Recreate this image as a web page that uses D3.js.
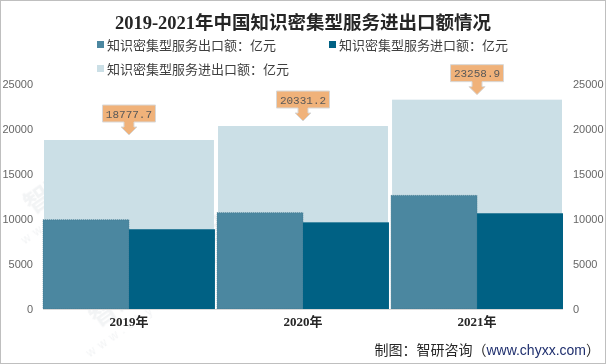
<!DOCTYPE html>
<html><head><meta charset="utf-8">
<script src="https://cdn.jsdelivr.net/npm/d3@7"></script>
<style>html,body{margin:0;padding:0;background:#fff;}svg{display:block;}</style>
</head><body>
<script>
const years = ["2019年", "2020年", "2021年"];
const exportVals = [9916.9, 10701.4, 12623.2];
const importVals = [8860.8, 9629.8, 10635.7];
const totalVals = [18777.7, 20331.2, 23258.9];
const totalLabels = ["18777.7", "20331.2", "23258.9"];
const yTicks = [0, 5000, 10000, 15000, 20000, 25000];
const seriesNames = ["知识密集型服务出口额：亿元", "知识密集型服务进口额：亿元", "知识密集型服务进出口额：亿元"];
const titleText = "2019-2021年中国知识密集型服务进出口额情况";
const colors = {exp: "#4b87a0", imp: "#006184", tot: "#cbdfe6"};

const W = 606, H = 364;
const svg = d3.select("body").append("svg").attr("width", W).attr("height", H);

// watermarks
const wm = svg.append("g").attr("opacity", 0.1);
[[75,185],[250,215],[140,298]].forEach(([x,y])=>{
  const g = wm.append("g").attr("transform", `translate(${x},${y}) rotate(-35)`);
  g.append("text").attr("text-anchor","middle").attr("font-family","Noto Sans CJK SC").attr("font-weight","bold")
    .attr("font-size",26).attr("fill","#7f8c99").text("智研咨询");
  g.append("text").attr("text-anchor","middle").attr("y",20).attr("font-family","Liberation Sans")
    .attr("font-size",12).attr("letter-spacing",5).attr("fill","#7f8c99").text("www.chyxx.com");
});

const y = d3.scaleLinear().domain([0, 25000]).range([309, 84]);
const x = d3.scaleBand().domain(years).range([43, 563]).paddingInner(0.012).paddingOuter(0);
const x1 = d3.scaleBand().domain(["exp","imp"]).range([0, x.bandwidth()]);

// title
svg.append("text").attr("x", 303).attr("y", 29).attr("text-anchor","middle")
  .attr("font-family","'Liberation Serif','Noto Sans CJK SC'").attr("font-weight","bold")
  .attr("font-size",18.5).attr("fill","#262626").text(titleText);

// legend
const legendPos = [[97,45],[329,45],[97,69]];
const legendCols = [colors.exp, colors.imp, colors.tot];
seriesNames.forEach((n,i)=>{
  const [lx,ly] = legendPos[i];
  svg.append("rect").attr("x",lx).attr("y",ly-4).attr("width",7).attr("height",7).attr("fill",legendCols[i]);
  svg.append("text").attr("x",lx+10).attr("y",ly+4.5).attr("font-family","'Noto Sans CJK SC'")
    .attr("font-size",13).attr("fill","#404040").text(n);
});

// total bars
svg.append("g").selectAll("rect").data(years).join("rect")
  .attr("x", d=>x(d)+1).attr("width", x.bandwidth()-2)
  .attr("y", (d,i)=>y(totalVals[i])).attr("height",(d,i)=>y(0)-y(totalVals[i]))
  .attr("fill", colors.tot);

// export bars
svg.append("g").selectAll("rect").data(years).join("rect")
  .attr("x", d=>x(d)+x1("exp")).attr("width", x1.bandwidth())
  .attr("y", (d,i)=>y(exportVals[i])).attr("height",(d,i)=>y(0)-y(exportVals[i]))
  .attr("fill", colors.exp).attr("stroke","#3a7088").attr("stroke-width",0.6).attr("stroke-dasharray","1,1");

// import bars
svg.append("g").selectAll("rect").data(years).join("rect")
  .attr("x", d=>x(d)+x1("imp")).attr("width", x1.bandwidth())
  .attr("y", (d,i)=>y(importVals[i])).attr("height",(d,i)=>y(0)-y(importVals[i]))
  .attr("fill", colors.imp);

// baseline
svg.append("line").attr("x1",43).attr("x2",563).attr("y1",y(0)+0.5).attr("y2",y(0)+0.5)
  .attr("stroke","#d9d9d9").attr("stroke-width",1);

// axes
const fmt = d3.format("d");
const axL = d3.axisLeft(y).tickValues(yTicks).tickFormat(fmt).tickSize(0).tickPadding(0);
const gL = svg.append("g").attr("transform","translate(33,0)").call(axL);
const axR = d3.axisRight(y).tickValues(yTicks).tickFormat(fmt).tickSize(0).tickPadding(0);
const gR = svg.append("g").attr("transform","translate(573,0)").call(axR);
[gL,gR].forEach(g=>{
  g.select(".domain").remove();
  g.selectAll("text").attr("font-family","'Liberation Sans'").attr("font-size",11).attr("fill","#666");
});

// category labels
const axB = d3.axisBottom(x).tickSize(0).tickPadding(0);
const gB = svg.append("g").attr("transform","translate(0,317)").call(axB);
gB.select(".domain").remove();
gB.selectAll("text").attr("font-family","'Liberation Serif','Noto Sans CJK SC'").attr("font-weight","bold")
  .attr("font-size",13).attr("fill","#262626");

// callouts
years.forEach((d,i)=>{
  const cx = x(d) + x.bandwidth()/2;
  const ty = y(totalVals[i]) - 5;
  const bw = 53;
  const p = `M${cx-bw/2},${ty-30} H${cx+bw/2} V${ty-13} H${cx+5} V${ty-8} H${cx+8} L${cx},${ty} L${cx-8},${ty-8} H${cx-5} V${ty-13} H${cx-bw/2} Z`;
  svg.append("path").attr("d",p).attr("fill","#f0b27a").attr("stroke","#d8d8d8").attr("stroke-width",1);
  svg.append("text").attr("x",cx).attr("y",ty-17.5).attr("text-anchor","middle")
    .attr("font-family","'Liberation Mono'").attr("font-size",11).attr("fill","#595959").text(totalLabels[i]);
});

// footer
const ft = svg.append("text").attr("x",600).attr("y",355).attr("text-anchor","end")
  .attr("font-family","'Noto Sans CJK SC'").attr("font-size",14).attr("fill","#262626");
ft.append("tspan").text("制图：智研咨询（");
ft.append("tspan").attr("font-family","'Liberation Sans'").attr("fill","#1f2f6e").text("www.chyxx.com");
ft.append("tspan").text("）");

// border
svg.append("rect").attr("x",0.5).attr("y",0.5).attr("width",W-1).attr("height",H-1)
  .attr("fill","none").attr("stroke","#bfbfbf");
</script>
</body></html>
